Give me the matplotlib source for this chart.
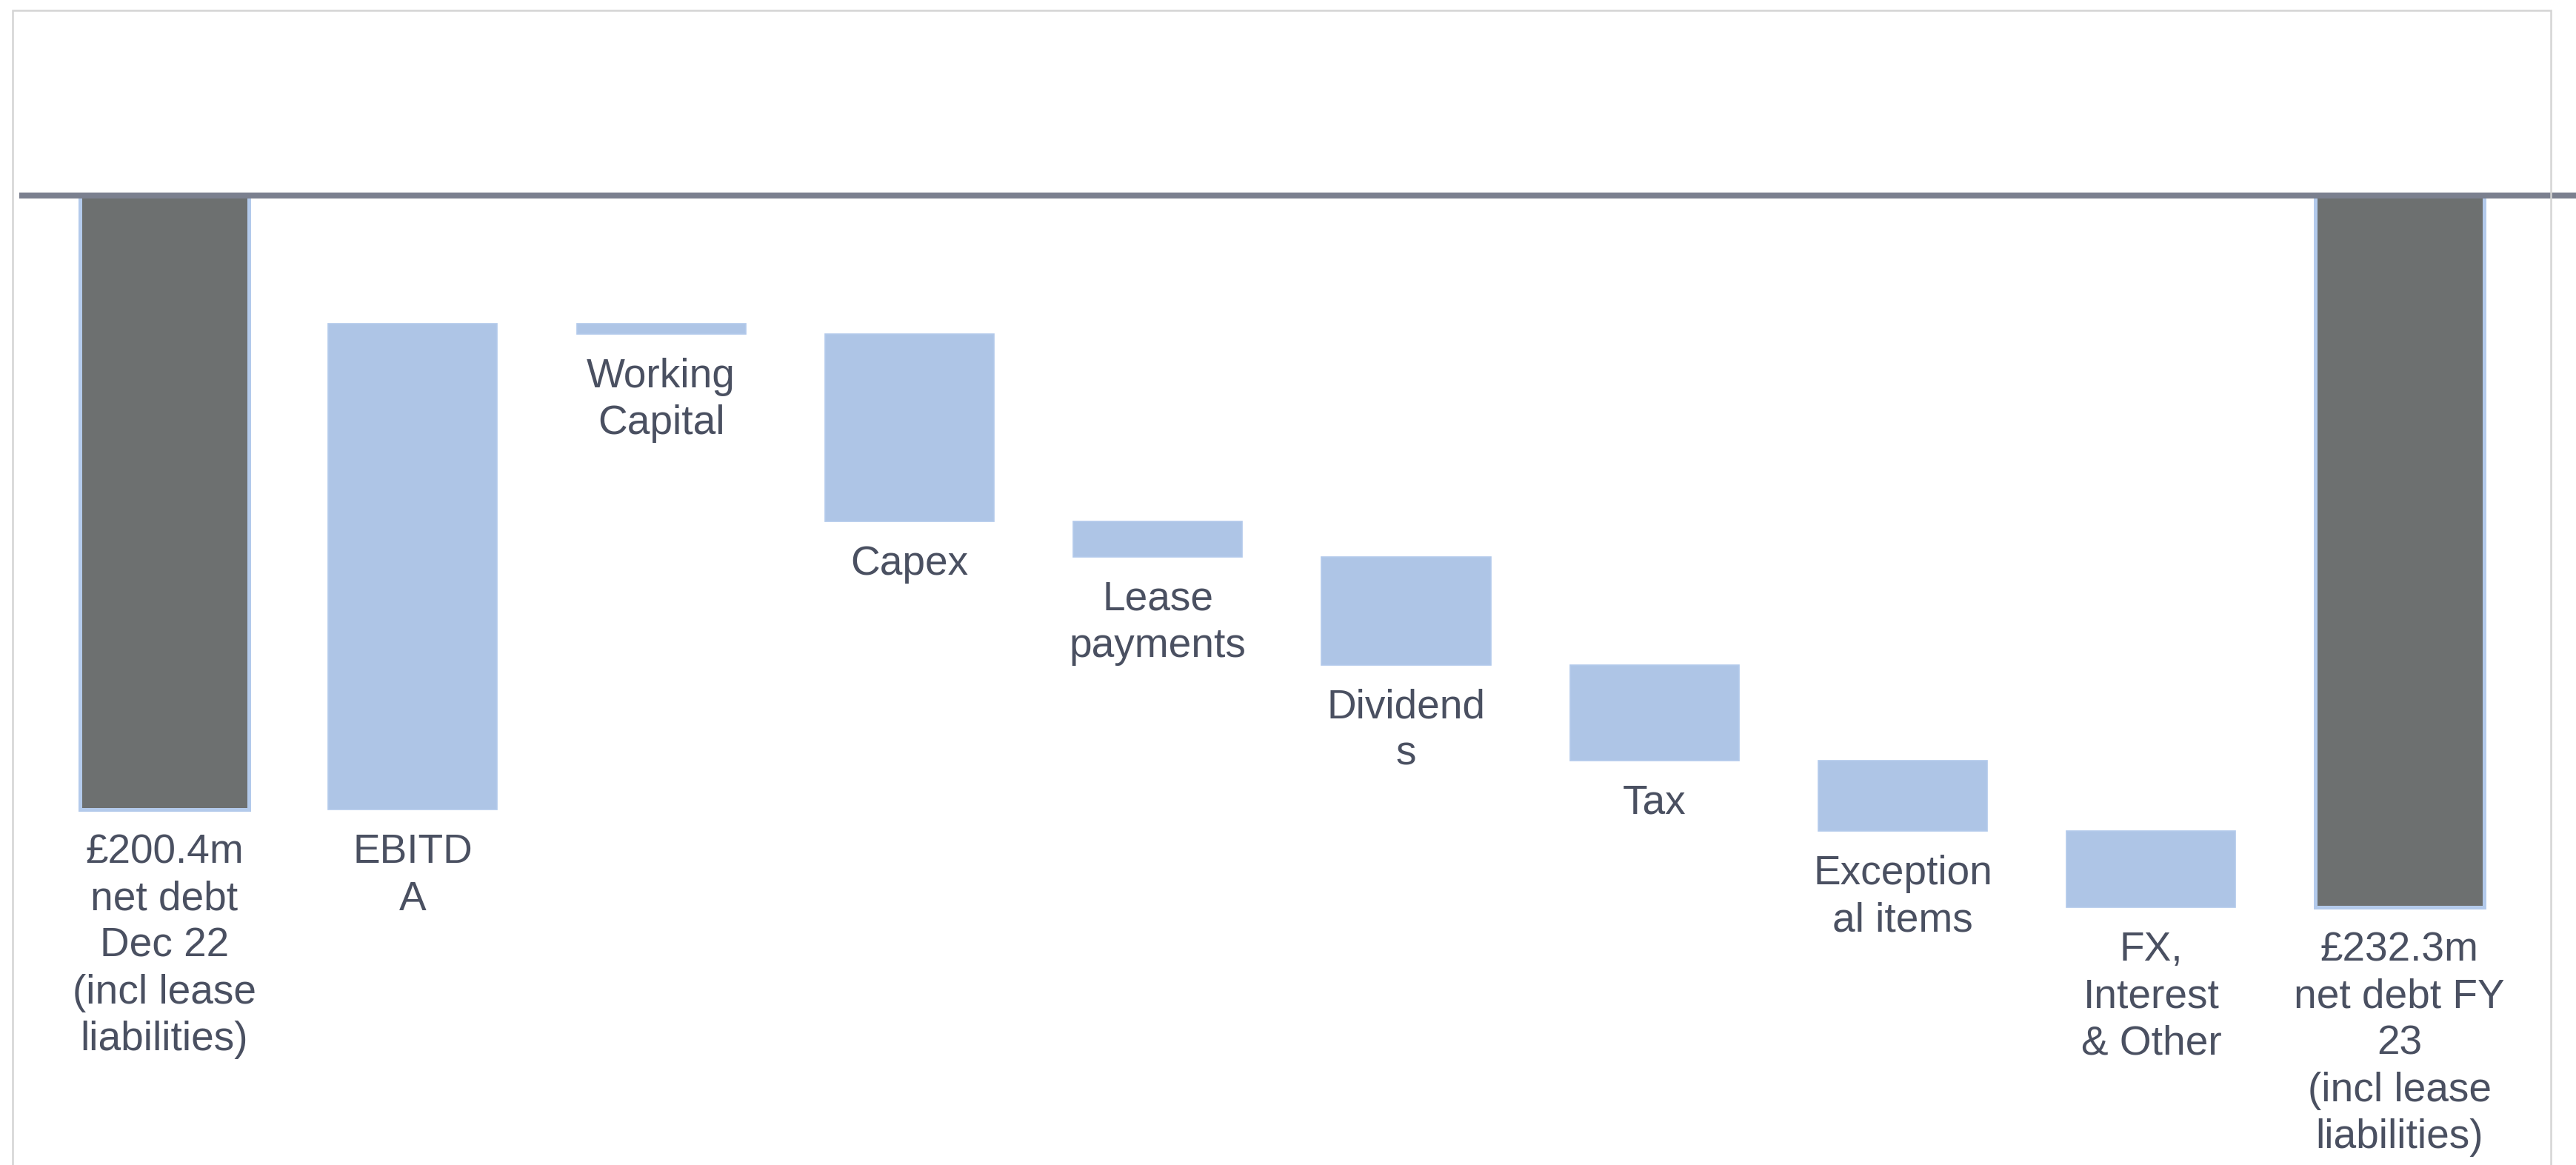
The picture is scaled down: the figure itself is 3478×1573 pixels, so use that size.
import matplotlib.pyplot as plt
from matplotlib.patches import Rectangle

# net debt bridge, £m (debt grows downwards from the top line)
categories = [
    "£200.4m\nnet debt\nDec 22\n(incl lease\nliabilities)",
    "EBITD\nA",
    "Working\nCapital",
    "Capex",
    "Lease\npayments",
    "Dividend\ns",
    "Tax",
    "Exception\nal items",
    "FX,\nInterest\n& Other",
    "£232.3m\nnet debt FY\n23\n(incl lease\nliabilities)",
]
opening_debt = 200.4
closing_debt = 232.3
movements = [-158.6, 3.4, 61.1, 11.6, 35.2, 31.2, 23.1, 24.9]

TOTAL_COLOR = "#6D7070"
STEP_COLOR = "#AEC5E6"
EDGE_COLOR = "#B3CAEB"
TEXT_COLOR = "#4A5061"
LINE_COLOR = "#7B808F"

plt.rcParams["font.family"] = ["Liberation Sans", "DejaVu Sans"]

W, H, DPI = 3478, 1573, 200
fig = plt.figure(figsize=(W / DPI, H / DPI), dpi=DPI)
ax = fig.add_axes([0, 0, 1, 1])

width = 0.68
n = len(categories)

# opening and closing totals hang from the zero line
ax.bar([0, n - 1], [opening_debt, closing_debt], width=width,
       color=TOTAL_COLOR, edgecolor=EDGE_COLOR, linewidth=1.8, zorder=2)

# floating movement bars
level = opening_debt
bottoms, lows = [], []
for m in movements:
    bottoms.append(level)
    lows.append(max(level, level + m))
    level += m
ax.bar(range(1, n - 1), movements, bottom=bottoms, width=width,
       color=STEP_COLOR, edgecolor=EDGE_COLOR, linewidth=0.6, zorder=2)

label_y = [opening_debt] + lows + [closing_debt]
for i, (lab, y) in enumerate(zip(categories, label_y)):
    ax.annotate(lab, (i, y), xytext=(0, -11.5), textcoords="offset points",
                ha="center", va="top", fontsize=19.8, color=TEXT_COLOR,
                linespacing=1.28)

ax.axhline(0, xmin=30 / W, xmax=1, color=LINE_COLOR, linewidth=2.9, zorder=3)

# scale: zero line sits 264 px below the top, 4.139 px per £m
px_per_m = 4.139
ax.set_ylim((H - 264) / px_per_m, -264 / px_per_m)
pitch = 335.3
ax.set_xlim(-222 / pitch, (W - 222) / pitch)
ax.axis("off")

fig.add_artist(Rectangle((17 / W, -0.02), (3444 - 17) / W, 1.02 - 14 / H,
                         transform=fig.transFigure, fill=False,
                         edgecolor="#D4D4D4", linewidth=0.9))

fig.savefig("out.png", dpi=DPI, facecolor="white")
